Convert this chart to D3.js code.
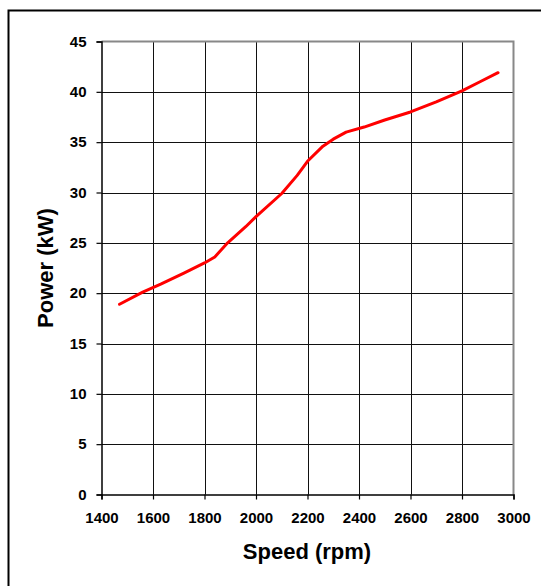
<!DOCTYPE html>
<html>
<head>
<meta charset="utf-8">
<script src="https://cdnjs.cloudflare.com/ajax/libs/d3/7.8.5/d3.min.js"></script>
<style>
  body { margin: 0; background: #fff; }
  text { font-family: "Liberation Sans", Arial, sans-serif; font-weight: bold; fill: #000; }
</style>
</head>
<body>
<div id="chart"></div>
<script>
// speed (rpm) vs power (kW)
var speed = [1470, 1560, 1630, 1720, 1800, 1840, 1890, 1960, 2000, 2100, 2160, 2200, 2260, 2300, 2350, 2420, 2500, 2600, 2700, 2800, 2870, 2940];
var power = [18.9, 20.1, 20.9, 22.0, 23.0, 23.6, 25.0, 26.6, 27.6, 29.9, 31.7, 33.1, 34.6, 35.3, 36.0, 36.5, 37.2, 38.0, 39.0, 40.1, 41.0, 41.9];

var xTicks = [1400, 1600, 1800, 2000, 2200, 2400, 2600, 2800, 3000];
var yTicks = [0, 5, 10, 15, 20, 25, 30, 35, 40, 45];

var width = 541, height = 586;
var plotLeft = 101.5, plotRight = 513.5, plotTop = 41.5, plotBottom = 494.5;

var svg = d3.select("#chart")
  .append("svg")
  .attr("width", width)
  .attr("height", height);

// outer chart frame (runs off the right and bottom edges)
svg.append("rect")
  .attr("x", 8.5)
  .attr("y", 10.5)
  .attr("width", 560)
  .attr("height", 600)
  .attr("fill", "#fff")
  .attr("stroke", "#000")
  .attr("stroke-width", 2);

var x = d3.scaleLinear().domain([1400, 3000]).range([plotLeft, plotRight]);
var y = d3.scaleLinear().domain([0, 45]).range([plotBottom, plotTop]);

// grid
svg.append("g")
  .selectAll("line")
  .data(xTicks.slice(1, -1))
  .enter().append("line")
  .attr("x1", function(d){ return Math.round(x(d)) + 0.5; })
  .attr("x2", function(d){ return Math.round(x(d)) + 0.5; })
  .attr("y1", plotTop)
  .attr("y2", plotBottom)
  .attr("stroke", "#111")
  .attr("stroke-width", 1);

svg.append("g")
  .selectAll("line")
  .data(yTicks.slice(1, -1))
  .enter().append("line")
  .attr("x1", plotLeft)
  .attr("x2", plotRight)
  .attr("y1", function(d){ return Math.round(y(d)) + 0.5; })
  .attr("y2", function(d){ return Math.round(y(d)) + 0.5; })
  .attr("stroke", "#111")
  .attr("stroke-width", 1);

// plot area border (grey top / right)
svg.append("path")
  .attr("d", "M" + plotLeft + "," + plotTop + "H" + plotRight + "V" + plotBottom)
  .attr("fill", "none")
  .attr("stroke", "#888")
  .attr("stroke-width", 2);

// axes
var xAxis = d3.axisBottom(x).tickValues(xTicks).tickSize(5).tickPadding(13).tickFormat(d3.format("d"));
var yAxis = d3.axisLeft(y).tickValues(yTicks).tickSize(5).tickPadding(10);

var gx = svg.append("g")
  .attr("transform", "translate(0," + plotBottom + ")")
  .call(xAxis);
var gy = svg.append("g")
  .attr("transform", "translate(" + plotLeft + ",0)")
  .call(yAxis);

[gx, gy].forEach(function(g){
  g.select(".domain").attr("stroke", "#000").attr("stroke-width", 1.5);
  g.selectAll(".tick line").attr("stroke", "#000").attr("stroke-width", 1.2);
  g.selectAll(".tick text")
    .attr("font-family", "Liberation Sans, Arial, sans-serif")
    .attr("font-weight", "bold")
    .attr("font-size", 15)
    .attr("fill", "#000");
});

// curve
var line = d3.line()
  .x(function(d, i){ return x(speed[i]); })
  .y(function(d, i){ return y(power[i]); });

svg.append("path")
  .datum(power)
  .attr("d", line)
  .attr("fill", "none")
  .attr("stroke", "#ff0000")
  .attr("stroke-width", 3)
  .attr("stroke-linejoin", "round")
  .attr("stroke-linecap", "round");

// axis titles
svg.append("text")
  .attr("x", 307)
  .attr("y", 559)
  .attr("text-anchor", "middle")
  .attr("font-size", 22)
  .text("Speed (rpm)");

svg.append("text")
  .attr("transform", "translate(53,268) rotate(-90)")
  .attr("text-anchor", "middle")
  .attr("font-size", 22)
  .text("Power (kW)");
</script>
</body>
</html>
